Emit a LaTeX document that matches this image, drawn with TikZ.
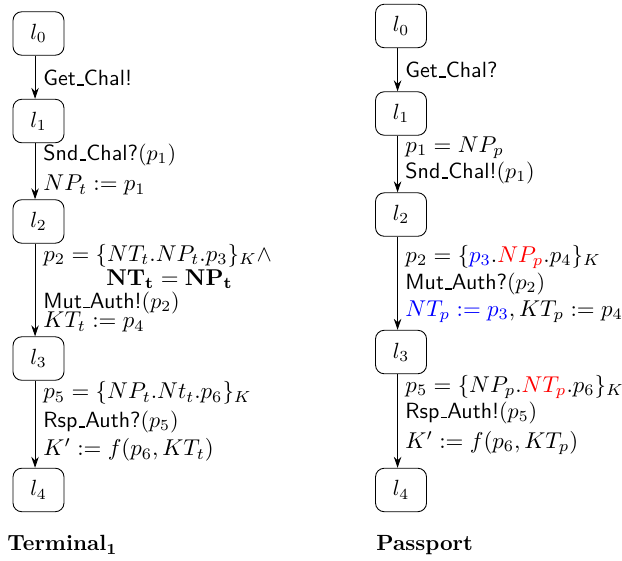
\documentclass[tikz,border=0pt]{standalone}
\usepackage{amsmath}
\usepackage{amssymb}
\usetikzlibrary{arrows.meta}
\newcommand{\uscore}{\leavevmode\kern.06em\vbox{\hrule height.55pt width.3em}}

\begin{document}
\begin{tikzpicture}[x=1cm,y=-1cm,every node/.style={black},
	loc/.style={draw,rounded corners=4pt,minimum width=0.815cm,minimum height=0.695cm,inner sep=0pt},
	act/.style={anchor=west,inner sep=0pt},
	lab/.style={act,scale=1.04},
	trans/.style={-{Stealth[length=5pt,width=3.4pt]}}]
	\useasboundingbox (0,0) rectangle (9.936,8.946);
%	terminal
	\coordinate (t0) at (0.615,0.535);
	\coordinate (t1) at (0.615,1.933);
	\coordinate (t2) at (0.615,3.538);
	\coordinate (t3) at (0.615,5.727);
	\coordinate (t4) at (0.615,7.827);
%	passport
	\coordinate (p0) at (6.406,0.415);
	\coordinate (p1) at (6.406,1.813);
	\coordinate (p2) at (6.406,3.427);
	\coordinate (p3) at (6.406,5.623);
	\coordinate (p4) at (6.406,7.827);

	\node[loc] (tl0) at (t0) {$l_0$};
	\node[loc] (tl1) at (t1) {$l_1$};
	\node[loc] (tl2) at (t2) {$l_2$};
	\node[loc] (tl3) at (t3) {$l_3$};
	\node[loc] (tl4) at (t4) {$l_4$};
	\node[loc] (pl0) at (p0) {$l_0$};
	\node[loc] (pl1) at (p1) {$l_1$};
	\node[loc] (pl2) at (p2) {$l_2$};
	\node[loc] (pl3) at (p3) {$l_3$};
	\node[loc] (pl4) at (p4) {$l_4$};

	\foreach \s in {t,p}{
		\foreach \i [evaluate=\i as \j using int(\i+1)] in {0,...,3}
			\draw[trans] ([xshift=-0.055cm]\s l\i.south) -- ([xshift=-0.055cm]\s l\j.north);
	}

%	terminal labels
	\node[act] (tg) at (0.687,1.246) {\textsf{Get\uscore Chal!}};
	\node[act] (ts) at (0.687,2.476) {\textsf{Snd\uscore Chal?}$(p_1)$};
	\node[lab] (tn) at (0.687,2.955) {$NP_t := p_1$};
	\node[lab] (tp2) at (0.687,4.085) {$p_2 = \{NT_t.NP_t.p_3\}_K\wedge$};
	\node[inner sep=0pt,scale=1.04] (teq) at (2.708,4.462) {$\mathbf{NT_t = NP_t}$};
	\node[act] (tm) at (0.687,4.835) {\textsf{Mut\uscore Auth!}$(p_2)$};
	\node[lab] (tk) at (0.687,5.150) {$KT_t := p_4$};
	\node[lab] (tp5) at (0.687,6.278) {$p_5 = \{NP_t.Nt_t.p_6\}_K$};
	\node[act] (tr) at (0.687,6.741) {\textsf{Rsp\uscore Auth?}$(p_5)$};
	\node[lab] (tf) at (0.687,7.188) {$K' := f(p_6,KT_t)$};
%	passport labels
	\node[act] (pg) at (6.47,1.118) {\textsf{Get\uscore Chal?}};
	\node[lab] (pn) at (6.47,2.364) {$p_1 = NP_p$};
	\node[act] (ps) at (6.47,2.764) {\textsf{Snd\uscore Chal!}$(p_1)$};
	\node[lab] (pp2) at (6.47,4.105) {$p_2 = \{\textcolor{blue}{p_3}.\textcolor{red}{NP_p}.p_4\}_K$};
	\node[act] (pm) at (6.47,4.537) {\textsf{Mut\uscore Auth?}$(p_2)$};
	\node[lab] (pk) at (6.47,4.984) {$\textcolor{blue}{NT_p := p_3}, KT_p := p_4$};
	\node[lab] (pp5) at (6.47,6.182) {$p_5 = \{NP_p.\textcolor{red}{NT_p}.p_6\}_K$};
	\node[act] (pr) at (6.47,6.597) {\textsf{Rsp\uscore Auth!}$(p_5)$};
	\node[lab] (pf) at (6.47,7.077) {$K' := f(p_6,KT_p)$};

	\node[act] (tname) at (0.112,8.706) {\textbf{Terminal}$_\mathbf{1}$};
	\node[act] (pname) at (6.006,8.706) {\textbf{Passport}};
\end{tikzpicture}
\end{document}
